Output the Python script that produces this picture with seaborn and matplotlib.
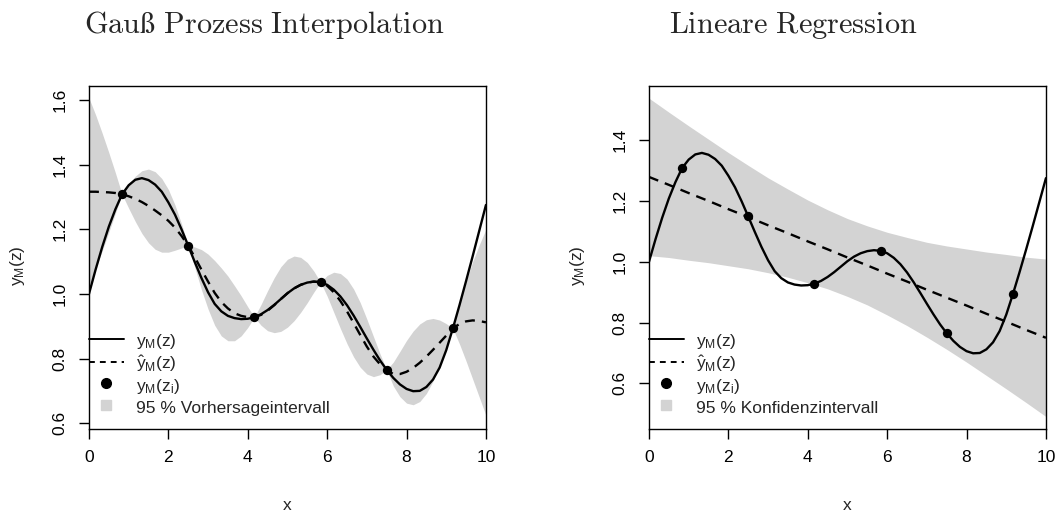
import numpy as np
import matplotlib
matplotlib.use("Agg")
import matplotlib.pyplot as plt
from matplotlib.lines import Line2D
import seaborn as sns

# x grid used for the curves (step 1/6)
x_grid = np.linspace(0, 10, 61)

# true model y_M(z)
y_true = [1.000, 1.075, 1.145, 1.208, 1.262, 1.308, 1.336, 1.353, 1.358, 1.352,
          1.338, 1.316, 1.283, 1.245, 1.199, 1.149, 1.098, 1.049, 1.005, 0.969,
          0.946, 0.932, 0.925, 0.922, 0.923, 0.928, 0.937, 0.950, 0.966, 0.984,
          1.002, 1.017, 1.028, 1.035, 1.038, 1.036, 1.028, 1.013, 0.992, 0.965,
          0.933, 0.898, 0.862, 0.827, 0.794, 0.765, 0.740, 0.720, 0.706, 0.699,
          0.700, 0.712, 0.735, 0.772, 0.826, 0.893, 0.965, 1.040, 1.117, 1.196,
          1.275]

# gauss process prediction + half width of 95% interval
gp_mean = [1.316, 1.316, 1.315, 1.314, 1.312, 1.308, 1.302, 1.294, 1.284, 1.272,
           1.258, 1.243, 1.226, 1.205, 1.179, 1.149, 1.113, 1.075, 1.038, 1.003,
           0.975, 0.955, 0.940, 0.932, 0.928, 0.928, 0.935, 0.948, 0.965, 0.984,
           1.002, 1.017, 1.028, 1.035, 1.038, 1.036, 1.025, 1.005, 0.978, 0.946,
           0.910, 0.873, 0.837, 0.806, 0.782, 0.765, 0.752, 0.752, 0.759, 0.771,
           0.787, 0.806, 0.827, 0.849, 0.871, 0.893, 0.907, 0.915, 0.918, 0.916,
           0.912]
gp_halfwidth = [0.290, 0.238, 0.182, 0.123, 0.062, 0.0,
                0.037, 0.070, 0.097, 0.114, 0.120, 0.114, 0.097, 0.070, 0.037, 0.0,
                0.032, 0.062, 0.085, 0.100, 0.105, 0.100, 0.085, 0.062, 0.032, 0.0,
                0.032, 0.062, 0.085, 0.100, 0.105, 0.100, 0.085, 0.062, 0.032, 0.0,
                0.032, 0.062, 0.085, 0.100, 0.105, 0.100, 0.085, 0.062, 0.032, 0.0,
                0.037, 0.070, 0.097, 0.114, 0.120, 0.114, 0.097, 0.070, 0.037, 0.0,
                0.062, 0.123, 0.182, 0.236, 0.288]

# sample points
pts_x = [0.833, 2.5, 4.167, 5.833, 7.5, 9.167]
pts_y = [1.308, 1.149, 0.928, 1.036, 0.765, 0.893]

# linear regression fit + half width of confidence band
reg_x = np.linspace(0, 10, 21)
reg_fit = [1.279, 1.253, 1.226, 1.200, 1.173, 1.147, 1.120, 1.094, 1.067, 1.041,
           1.014, 0.988, 0.961, 0.935, 0.908, 0.882, 0.856, 0.829, 0.803, 0.776,
           0.750]
reg_halfwidth = [0.259, 0.239, 0.221, 0.203, 0.186, 0.170, 0.156, 0.145, 0.136, 0.130,
                 0.128, 0.130, 0.136, 0.145, 0.156, 0.170, 0.186, 0.203, 0.221, 0.239,
                 0.259]

titles = ["Gauß Prozess Interpolation", "Lineare Regression"]
band_labels = ["95 % Vorhersageintervall", "95 % Konfidenzintervall"]
y_ticks = [[0.6, 0.8, 1.0, 1.2, 1.4, 1.6], [0.6, 0.8, 1.0, 1.2, 1.4]]
y_limits = [(0.582, 1.643), (0.450, 1.578)]
x_ticks = [0, 2, 4, 6, 8, 10]

sns.set_theme(style="ticks")
plt.rcParams["font.family"] = ["Liberation Sans", "DejaVu Sans"]
plt.rcParams["axes.edgecolor"] = "black"
plt.rcParams["axes.linewidth"] = 1.0
plt.rcParams["xtick.color"] = "black"
plt.rcParams["ytick.color"] = "black"

band_color = "#D3D3D3"
dash = (0, (4.2, 3.0))

fig = plt.figure(figsize=(10.58, 5.16), dpi=100)
ax1 = fig.add_axes([0.0841, 0.1686, 0.3752, 0.6647])
ax2 = fig.add_axes([0.6134, 0.1686, 0.3752, 0.6647])

# left: gauss process
gp_mean_arr = np.array(gp_mean)
gp_hw_arr = np.array(gp_halfwidth)
ax1.fill_between(x_grid, gp_mean_arr - gp_hw_arr, gp_mean_arr + gp_hw_arr,
                 color=band_color, lw=0)
sns.lineplot(x=x_grid, y=gp_mean, ax=ax1, color="black", lw=1.7,
             linestyle=dash, legend=False)

# right: linear regression
reg_fit_arr = np.array(reg_fit)
reg_hw_arr = np.array(reg_halfwidth)
ax2.fill_between(reg_x, reg_fit_arr - reg_hw_arr, reg_fit_arr + reg_hw_arr,
                 color=band_color, lw=0)
sns.lineplot(x=reg_x, y=reg_fit, ax=ax2, color="black", lw=1.7,
             linestyle=dash, legend=False)

for i, ax in enumerate([ax1, ax2]):
    sns.lineplot(x=x_grid, y=y_true, ax=ax, color="black", lw=1.7, legend=False)
    sns.scatterplot(x=pts_x, y=pts_y, ax=ax, color="black", s=45,
                    edgecolor="black", linewidth=0, zorder=5, legend=False)

    ax.set_xlim(0, 10)
    ax.set_ylim(*y_limits[i])
    ax.set_xticks(x_ticks)
    ax.set_yticks(y_ticks[i])
    ax.set_xticklabels([str(t) for t in x_ticks])
    ax.set_yticklabels([f"{t:.1f}" for t in y_ticks[i]], rotation=90, va="center")
    ax.tick_params(length=7.2, width=1, labelsize=12.5, pad=8)
    for s in ax.spines.values():
        s.set_visible(True)
        s.set_color("black")
        s.set_linewidth(1.0)

    ax.set_xlabel("x", fontsize=12.5)
    ax.xaxis.set_label_coords(0.5, -0.20)
    ax.set_ylabel(r"$\mathregular{y_M(z)}$", fontsize=12.5)
    ax.yaxis.set_label_coords(-0.155, 0.475)

    handles = [
        Line2D([], [], color="black", lw=1.4),
        Line2D([], [], color="black", lw=1.4, linestyle=(0, (3, 2.6))),
        Line2D([], [], color="black", marker="o", markersize=7, linestyle="none"),
        Line2D([], [], color=band_color, marker="s", markersize=7, linestyle="none"),
    ]
    labels = [r"$\mathregular{y_M(z)}$", r"$\mathregular{\hat{y}_M(z)}$",
              r"$\mathregular{y_M(z_i)}$", band_labels[i]]
    ax.legend(handles, labels, loc="lower left", bbox_to_anchor=(0, 0.039),
              frameon=False, fontsize=12.5, borderpad=0, borderaxespad=0,
              handlelength=2.0, handletextpad=0.7, handleheight=1.2,
              labelspacing=0.12)

    # titles centred on each half of the figure
    fig.text(0.25 + 0.5 * i, 1 - 33 / 516,
             r"$\mathrm{" + titles[i].replace(" ", r"\ ") + "}$",
             math_fontfamily="cm", fontsize=21.8, ha="center", va="baseline")

fig.savefig("out.png", dpi=100)
